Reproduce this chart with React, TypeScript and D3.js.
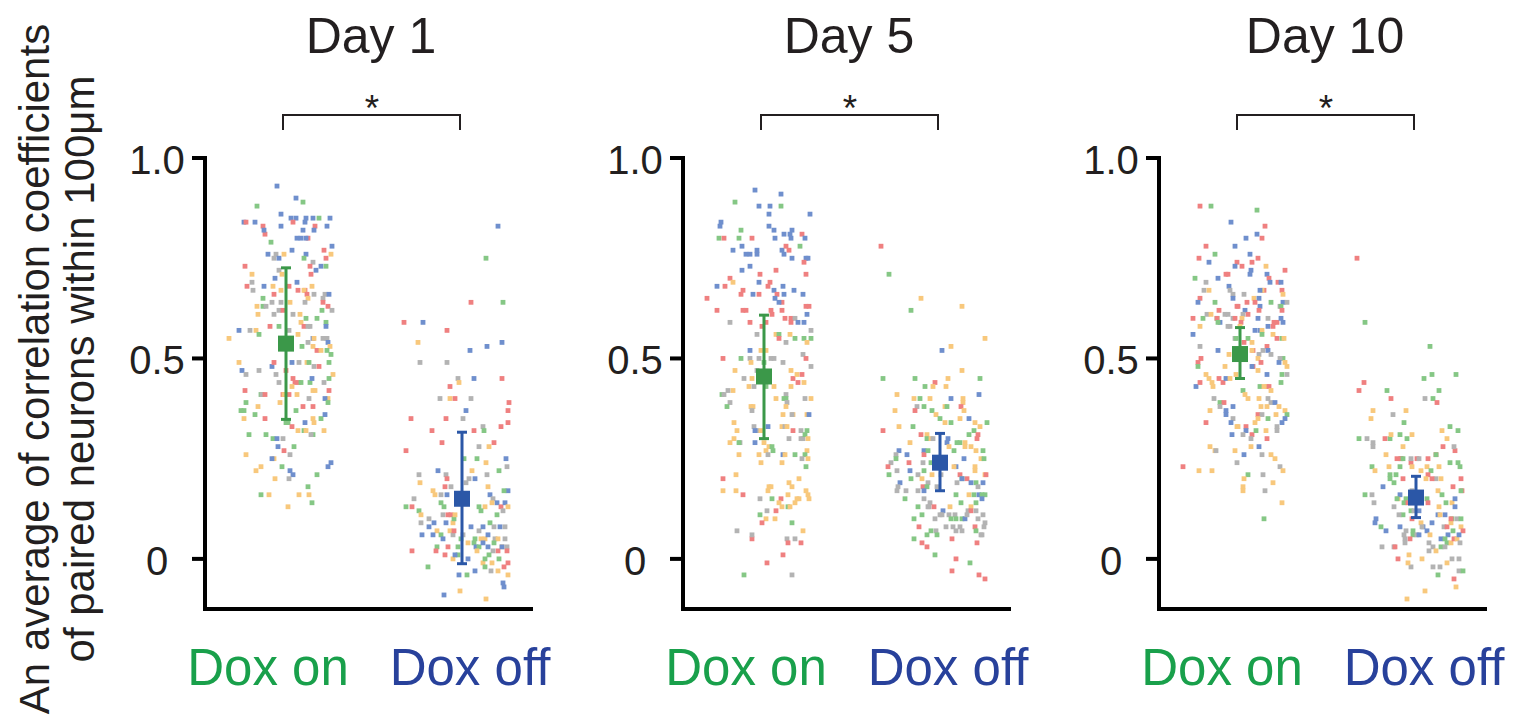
import React from "react";
import * as d3 from "d3";

const DAYS = ["Day 1", "Day 5", "Day 10"];
const CATEGORIES = ["Dox on", "Dox off"];
const Y_TICKS = [0, 0.5, 1.0];
const Y_TICK_LABELS = ["0", "0.5", "1.0"];
const Y_LABEL_LINES = ["An average of correlation coefficients", "of paired neurons within 100μm"];

// mean and error bars per day
const MEAN_ON = [0.537, 0.455, 0.511];
const LOW_ON = [0.348, 0.3, 0.45];
const HIGH_ON = [0.726, 0.608, 0.577];
const MEAN_OFF = [0.15, 0.24, 0.153];
const LOW_OFF = [-0.012, 0.17, 0.103];
const HIGH_OFF = [0.316, 0.313, 0.206];

// points: [jitter, value, colour index]  colours: 0 red, 1 orange, 2 green, 3 blue, 4 grey
const DAY1_ON = [[-9,0.93,3],[10,0.9,3],[17,0.89,2],[-29,0.88,2],[-5,0.86,3],[5,0.85,3],[10,0.85,3],[20,0.85,3],[27,0.85,3],[33,0.85,2],[44,0.85,3],[-42,0.84,3],[-40,0.84,0],[-31,0.84,3],[-23,0.83,0],[7,0.84,0],[19,0.84,3],[29,0.83,0],[41,0.83,3],[-21,0.81,0],[-22,0.82,3],[-5,0.83,3],[17,0.82,3],[28,0.82,3],[22,0.8,0],[11,0.8,3],[15,0.8,3],[20,0.8,3],[-15,0.79,2],[6,0.77,3],[46,0.78,3],[38,0.77,0],[-18,0.76,3],[-12,0.75,4],[-10,0.76,4],[-7,0.75,3],[-2,0.76,1],[20,0.76,3],[18,0.75,2],[40,0.75,0],[45,0.76,1],[-41,0.73,0],[27,0.74,4],[24,0.73,0],[30,0.72,3],[35,0.73,3],[40,0.73,2],[-7,0.72,4],[-4,0.71,1],[25,0.71,0],[-34,0.71,1],[-11,0.7,3],[11,0.69,3],[-34,0.69,4],[-39,0.68,0],[-33,0.67,4],[-22,0.68,3],[-13,0.68,1],[3,0.68,0],[12,0.67,0],[19,0.67,0],[26,0.68,1],[-5,0.67,1],[-12,0.66,0],[18,0.67,1],[21,0.66,0],[28,0.66,4],[39,0.66,4],[43,0.66,3],[-23,0.65,2],[4,0.64,1],[-5,0.64,4],[37,0.65,4],[22,0.65,1],[-14,0.64,4],[19,0.64,4],[37,0.64,0],[42,0.63,0],[46,0.62,4],[-29,0.63,1],[-23,0.63,2],[-20,0.63,4],[-7,0.62,4],[-3,0.62,0],[7,0.61,4],[14,0.61,1],[36,0.62,2],[-28,0.61,1],[-12,0.61,4],[15,0.59,1],[18,0.58,0],[20,0.6,2],[22,0.58,4],[24,0.58,4],[31,0.6,2],[40,0.59,2],[40,0.58,3],[-47,0.57,3],[-36,0.57,4],[-30,0.57,1],[-27,0.56,2],[-16,0.58,0],[-7,0.58,2],[3,0.57,4],[12,0.56,1],[-57,0.55,1],[27,0.55,3],[28,0.55,1],[37,0.55,4],[41,0.55,4],[42,0.54,3],[44,0.53,1],[16,0.53,2],[22,0.54,4],[27,0.53,1],[31,0.52,0],[35,0.52,1],[41,0.52,2],[45,0.51,2],[-47,0.49,1],[-44,0.47,3],[-40,0.46,4],[-27,0.47,4],[-14,0.48,3],[-12,0.49,0],[6,0.49,3],[13,0.49,4],[21,0.49,1],[23,0.49,2],[28,0.48,4],[33,0.48,0],[43,0.49,2],[47,0.46,1],[-10,0.46,4],[7,0.45,0],[0,0.47,0],[9,0.44,0],[13,0.44,0],[6,0.43,1],[15,0.44,2],[24,0.44,2],[26,0.45,3],[38,0.44,4],[43,0.45,2],[-7,0.44,4],[-41,0.42,0],[-25,0.41,2],[-24,0.41,4],[-21,0.41,0],[-3,0.41,0],[-2,0.41,1],[3,0.41,0],[11,0.41,1],[23,0.4,4],[27,0.42,1],[29,0.42,1],[43,0.42,0],[42,0.4,1],[39,0.4,3],[42,0.39,2],[-40,0.39,2],[-28,0.38,1],[-6,0.39,1],[17,0.38,0],[27,0.38,0],[-45,0.37,2],[-42,0.37,2],[-31,0.36,2],[-21,0.35,0],[-42,0.35,1],[0,0.34,2],[2,0.34,2],[10,0.37,2],[19,0.34,3],[27,0.35,1],[28,0.34,1],[35,0.35,2],[39,0.36,3],[38,0.32,1],[6,0.33,0],[12,0.32,1],[18,0.32,2],[20,0.32,1],[27,0.31,2],[25,0.31,4],[-37,0.31,2],[-20,0.31,2],[-13,0.3,2],[-9,0.3,3],[-3,0.3,4],[-8,0.28,3],[8,0.28,2],[-40,0.26,1],[-2,0.27,0],[4,0.26,4],[-12,0.25,1],[-14,0.25,3],[45,0.24,3],[42,0.23,3],[-25,0.23,1],[-30,0.22,1],[-4,0.23,2],[4,0.22,3],[7,0.21,3],[31,0.21,2],[-11,0.2,1],[3,0.2,4],[22,0.18,2],[-25,0.16,2],[-17,0.16,1],[13,0.16,1],[23,0.16,1],[26,0.14,2],[2,0.13,1]];

const DAY1_OFF = [[36,0.83,3],[24,0.75,2],[41,0.64,2],[9,0.64,0],[-58,0.59,0],[-39,0.59,3],[-15,0.57,0],[-44,0.54,1],[8,0.52,3],[25,0.53,3],[40,0.54,3],[-42,0.49,4],[-15,0.49,4],[-4,0.45,4],[-3,0.44,1],[-12,0.43,0],[12,0.45,3],[40,0.45,0],[-22,0.4,4],[-12,0.4,1],[-7,0.4,0],[9,0.4,4],[47,0.39,0],[46,0.37,0],[4,0.37,3],[1,0.35,4],[-51,0.35,0],[-16,0.35,0],[46,0.34,0],[39,0.33,0],[21,0.33,4],[22,0.32,2],[-30,0.32,0],[12,0.32,0],[17,0.28,4],[27,0.28,1],[32,0.29,0],[-20,0.29,0],[-56,0.27,0],[45,0.23,4],[15,0.25,2],[24,0.24,1],[37,0.22,2],[44,0.25,3],[2,0.25,2],[10,0.22,1],[-24,0.22,3],[-16,0.21,4],[-43,0.21,4],[4,0.19,4],[7,0.2,4],[13,0.2,3],[-15,0.2,0],[25,0.21,4],[-42,0.19,1],[-17,0.18,0],[-11,0.18,4],[26,0.18,1],[46,0.17,3],[-29,0.17,1],[-27,0.16,1],[-21,0.16,4],[-15,0.16,3],[-48,0.15,4],[28,0.16,3],[42,0.17,2],[31,0.15,4],[35,0.14,3],[39,0.13,0],[43,0.14,3],[30,0.14,1],[23,0.13,1],[17,0.13,2],[19,0.12,2],[35,0.11,2],[41,0.12,4],[46,0.13,1],[-56,0.13,2],[-50,0.13,0],[-43,0.12,2],[-41,0.11,1],[-33,0.1,4],[-41,0.09,4],[-33,0.08,3],[-28,0.09,3],[-25,0.07,1],[-21,0.14,2],[-18,0.13,2],[-19,0.11,4],[-16,0.09,3],[-14,0.11,0],[-11,0.11,0],[-9,0.09,1],[-8,0.1,2],[-7,0.11,1],[-12,0.07,1],[-9,0.06,4],[-8,0.07,0],[-40,0.06,3],[-29,0.06,3],[-21,0.06,2],[-19,0.05,3],[-1,0.05,2],[1,0.06,4],[9,0.08,3],[17,0.07,4],[21,0.08,3],[28,0.09,2],[32,0.08,4],[38,0.08,3],[43,0.08,4],[23,0.05,1],[26,0.06,3],[33,0.05,4],[36,0.05,1],[43,0.05,4],[40,0.03,1],[36,0.02,0],[32,0.04,2],[19,0.05,1],[13,0.05,2],[12,0.04,2],[6,0.04,1],[14,0.03,3],[17,0.03,2],[21,0.04,3],[26,0.03,3],[31,0.02,4],[45,0.03,4],[45,0.02,0],[40,0.03,3],[-25,0.03,2],[-26,0.02,0],[-14,0.03,0],[-50,0.02,0],[-4,0.03,2],[-4,0.01,2],[-17,0.01,0],[-9,0.0,1],[-7,0.01,3],[6,0.0,3],[15,0.02,1],[21,-0.01,1],[23,0.0,2],[27,0.01,2],[30,-0.01,1],[37,0.0,2],[46,-0.01,0],[29,-0.03,4],[36,-0.03,1],[46,-0.04,1],[42,-0.02,0],[23,-0.02,2],[-34,-0.02,2],[-18,-0.09,3],[-2,-0.08,1],[-3,-0.04,3],[5,-0.04,2],[13,-0.03,3],[24,-0.1,1],[41,-0.06,3],[42,-0.07,3]];

const DAY5_ON = [[-9,0.92,3],[17,0.91,3],[-29,0.89,2],[-5,0.88,3],[6,0.88,3],[17,0.88,2],[5,0.86,3],[46,0.86,3],[-44,0.83,3],[-43,0.84,3],[5,0.83,3],[-23,0.82,2],[10,0.82,3],[20,0.81,3],[26,0.81,3],[28,0.82,3],[27,0.8,3],[38,0.81,0],[41,0.8,3],[-45,0.8,2],[-40,0.8,0],[-25,0.8,2],[-12,0.8,0],[11,0.8,3],[-22,0.78,3],[-31,0.77,3],[-18,0.76,3],[-14,0.76,3],[-7,0.77,3],[-7,0.76,3],[18,0.77,3],[22,0.78,0],[25,0.77,0],[36,0.78,2],[20,0.76,3],[28,0.75,3],[42,0.75,3],[44,0.75,3],[40,0.74,0],[-22,0.72,3],[-14,0.73,3],[12,0.72,0],[-4,0.71,0],[42,0.71,0],[-34,0.7,0],[-31,0.69,1],[-5,0.69,3],[6,0.69,0],[4,0.68,0],[19,0.68,3],[-47,0.68,3],[-39,0.68,0],[30,0.67,3],[-21,0.67,0],[-23,0.66,0],[-11,0.66,3],[-5,0.66,0],[10,0.67,3],[20,0.66,3],[13,0.66,0],[39,0.66,3],[-57,0.65,0],[11,0.65,3],[18,0.64,0],[15,0.64,3],[-47,0.62,0],[-21,0.62,0],[-18,0.62,0],[18,0.62,0],[42,0.63,0],[45,0.63,0],[7,0.62,0],[8,0.61,0],[43,0.61,3],[21,0.6,0],[27,0.6,0],[31,0.6,4],[34,0.59,3],[27,0.59,0],[40,0.59,3],[-34,0.59,4],[-14,0.59,0],[2,0.59,0],[-2,0.58,0],[47,0.57,4],[-7,0.56,4],[12,0.56,1],[15,0.56,2],[15,0.55,0],[26,0.56,1],[31,0.55,2],[40,0.55,2],[47,0.55,2],[43,0.54,1],[22,0.54,4],[2,0.52,1],[-3,0.52,1],[-14,0.52,3],[-14,0.5,4],[-5,0.5,4],[7,0.5,4],[10,0.5,4],[-13,0.49,1],[-41,0.5,0],[-23,0.5,2],[0,0.49,2],[19,0.49,4],[39,0.51,4],[42,0.5,0],[-29,0.47,1],[-7,0.47,4],[27,0.47,1],[47,0.48,4],[-20,0.45,4],[-12,0.45,1],[29,0.45,0],[33,0.46,1],[38,0.46,0],[34,0.44,0],[40,0.44,1],[10,0.43,1],[27,0.43,1],[-15,0.43,1],[-10,0.43,4],[-31,0.42,1],[-36,0.42,4],[-42,0.41,2],[-40,0.41,4],[2,0.43,2],[22,0.41,4],[20,0.4,2],[22,0.4,2],[12,0.4,1],[23,0.39,4],[41,0.4,4],[47,0.4,1],[-34,0.39,4],[-37,0.38,2],[-11,0.38,1],[-13,0.38,1],[-12,0.37,4],[22,0.38,1],[19,0.36,1],[29,0.36,1],[28,0.36,4],[43,0.36,1],[45,0.36,3],[-30,0.34,1],[-10,0.33,4],[-7,0.32,4],[4,0.33,3],[18,0.33,1],[21,0.33,4],[23,0.33,1],[-27,0.32,1],[-9,0.32,3],[-3,0.32,1],[37,0.32,4],[29,0.32,0],[37,0.3,4],[39,0.3,4],[41,0.31,2],[43,0.32,2],[25,0.3,4],[-30,0.3,1],[-34,0.29,1],[-24,0.29,4],[-25,0.29,2],[-9,0.29,3],[0,0.29,1],[2,0.27,1],[5,0.28,1],[8,0.28,2],[9,0.27,2],[44,0.3,1],[43,0.27,1],[-25,0.26,1],[-5,0.26,1],[4,0.26,4],[19,0.26,3],[21,0.26,1],[31,0.26,2],[41,0.26,2],[38,0.25,4],[44,0.25,1],[18,0.24,1],[-3,0.24,1],[42,0.23,2],[-28,0.21,1],[-41,0.2,0],[35,0.2,1],[-41,0.17,1],[-28,0.17,1],[-21,0.16,0],[4,0.17,1],[5,0.18,1],[7,0.18,1],[25,0.19,1],[28,0.18,1],[42,0.17,1],[44,0.16,1],[45,0.15,1],[24,0.16,1],[33,0.15,1],[35,0.15,1],[8,0.15,2],[-4,0.15,4],[17,0.15,0],[15,0.14,1],[18,0.13,1],[31,0.14,1],[24,0.13,2],[26,0.13,1],[3,0.12,4],[12,0.12,0],[-4,0.11,2],[2,0.1,1],[11,0.1,1],[-2,0.09,0],[28,0.09,2],[39,0.07,1],[-27,0.07,4],[-12,0.05,0],[-12,0.06,4],[23,0.05,4],[24,0.04,0],[31,0.05,4],[37,0.04,0],[19,0.01,0],[3,-0.01,0],[-20,-0.04,2],[28,-0.04,4]];

const DAY5_OFF = [[-59,0.78,0],[-51,0.71,2],[-19,0.65,1],[-29,0.62,2],[22,0.63,1],[45,0.55,1],[11,0.53,1],[2,0.52,3],[22,0.47,1],[-57,0.45,2],[-25,0.45,2],[8,0.45,1],[40,0.45,2],[-5,0.44,0],[-15,0.43,2],[-7,0.43,1],[6,0.43,1],[-43,0.41,1],[-26,0.4,1],[-20,0.4,2],[-10,0.4,1],[11,0.4,3],[39,0.41,3],[23,0.4,1],[23,0.39,1],[-23,0.38,4],[-16,0.38,2],[5,0.38,1],[7,0.38,2],[21,0.38,0],[-45,0.37,1],[-25,0.37,0],[-8,0.37,2],[-4,0.36,1],[24,0.37,1],[0,0.35,2],[20,0.35,1],[5,0.34,1],[11,0.34,2],[29,0.35,3],[35,0.34,1],[47,0.34,2],[-41,0.33,1],[-27,0.33,2],[40,0.33,1],[34,0.32,2],[-57,0.32,0],[29,0.31,2],[38,0.31,0],[-19,0.31,0],[-13,0.31,1],[-13,0.3,2],[-9,0.3,1],[-7,0.3,4],[37,0.3,0],[8,0.3,3],[7,0.29,3],[17,0.29,2],[20,0.29,2],[-30,0.29,1],[9,0.28,1],[25,0.29,1],[25,0.28,1],[31,0.28,1],[-16,0.27,3],[-16,0.26,0],[-12,0.27,2],[-41,0.27,3],[-33,0.26,3],[14,0.27,2],[36,0.27,1],[43,0.27,2],[-44,0.26,4],[-44,0.25,2],[-31,0.24,0],[-17,0.24,4],[-49,0.24,4],[-9,0.24,2],[24,0.25,3],[41,0.25,1],[44,0.25,2],[16,0.23,3],[14,0.23,1],[-52,0.23,0],[-30,0.22,3],[-43,0.22,4],[-16,0.22,2],[35,0.23,1],[35,0.22,1],[-51,0.21,2],[-22,0.21,4],[-18,0.2,1],[-8,0.21,1],[1,0.21,4],[20,0.21,0],[22,0.2,2],[27,0.2,0],[45,0.21,1],[46,0.21,0],[-29,0.2,2],[-40,0.19,3],[-12,0.19,4],[17,0.19,4],[22,0.2,3],[36,0.19,2],[43,0.19,3],[-17,0.18,0],[-13,0.18,2],[-42,0.18,4],[-3,0.18,4],[31,0.19,3],[38,0.18,4],[-43,0.17,4],[-34,0.17,4],[-22,0.17,4],[-16,0.17,3],[16,0.16,2],[29,0.16,1],[34,0.16,2],[39,0.16,3],[42,0.16,2],[45,0.16,2],[-35,0.15,2],[-16,0.15,4],[-10,0.14,4],[42,0.15,3],[-22,0.13,2],[-12,0.13,4],[-11,0.13,4],[-6,0.13,0],[10,0.13,1],[21,0.14,2],[31,0.13,1],[36,0.14,2],[28,0.12,4],[31,0.12,0],[36,0.12,4],[3,0.12,3],[0,0.11,4],[2,0.11,4],[9,0.11,4],[15,0.11,4],[43,0.11,4],[-18,0.11,2],[-26,0.1,2],[-5,0.1,4],[11,0.1,2],[16,0.1,2],[22,0.1,2],[25,0.1,3],[27,0.11,4],[38,0.1,4],[45,0.09,4],[-21,0.08,0],[-9,0.07,2],[-4,0.07,4],[-3,0.06,2],[6,0.08,4],[13,0.08,4],[16,0.07,4],[20,0.08,4],[22,0.07,4],[35,0.08,0],[36,0.07,2],[44,0.08,4],[41,0.06,4],[42,0.06,4],[-13,0.06,2],[-26,0.05,2],[12,0.05,0],[-18,0.04,0],[-13,0.03,0],[37,0.04,0],[-5,0.01,2],[16,0.0,0],[30,-0.01,2],[12,-0.03,0],[39,-0.04,0],[45,-0.05,0]];

const DAY10_ON = [[-40,0.88,0],[-29,0.88,2],[17,0.87,2],[-9,0.84,3],[25,0.83,0],[6,0.8,3],[17,0.81,3],[22,0.8,0],[-34,0.78,0],[-5,0.78,3],[-25,0.76,2],[-41,0.75,0],[10,0.76,3],[-31,0.74,3],[-3,0.74,0],[-5,0.73,3],[2,0.73,0],[12,0.74,0],[18,0.75,0],[26,0.73,1],[45,0.72,0],[-14,0.71,0],[-12,0.71,0],[11,0.72,3],[10,0.71,3],[27,0.71,3],[-22,0.7,3],[29,0.7,0],[-45,0.7,2],[-34,0.69,4],[38,0.69,0],[41,0.69,3],[-11,0.68,3],[-10,0.67,4],[-36,0.67,4],[-31,0.67,1],[24,0.67,0],[22,0.67,1],[30,0.69,3],[42,0.67,0],[43,0.66,1],[-7,0.66,4],[4,0.66,4],[20,0.67,3],[-40,0.65,0],[14,0.65,1],[19,0.65,3],[31,0.64,2],[-7,0.65,3],[-42,0.64,3],[-25,0.64,2],[7,0.64,0],[15,0.64,0],[40,0.63,4],[43,0.64,3],[47,0.64,4],[-2,0.63,0],[-3,0.63,0],[20,0.63,3],[19,0.62,0],[-21,0.62,0],[41,0.63,2],[42,0.62,0],[5,0.62,3],[8,0.61,0],[3,0.61,4],[-12,0.61,4],[-15,0.61,4],[-7,0.6,4],[-5,0.6,0],[2,0.6,1],[-37,0.6,2],[-33,0.61,4],[-29,0.61,1],[-23,0.6,2],[-23,0.6,0],[-20,0.59,3],[-47,0.6,0],[-22,0.59,2],[-40,0.58,1],[-10,0.58,4],[-12,0.58,4],[1,0.59,0],[0,0.58,1],[18,0.6,3],[28,0.6,4],[28,0.58,3],[34,0.59,0],[37,0.59,0],[41,0.6,3],[43,0.59,3],[33,0.58,0],[15,0.57,3],[20,0.57,3],[22,0.57,1],[-47,0.56,3],[-40,0.53,4],[-5,0.55,4],[-4,0.55,2],[8,0.55,2],[22,0.56,2],[33,0.56,1],[37,0.55,0],[42,0.55,2],[44,0.55,1],[27,0.53,0],[4,0.54,0],[12,0.54,1],[-22,0.52,3],[13,0.52,0],[12,0.52,1],[23,0.52,4],[28,0.52,3],[19,0.51,4],[31,0.51,4],[43,0.5,2],[40,0.5,4],[-11,0.51,1],[-39,0.5,0],[-42,0.49,0],[-42,0.48,2],[-15,0.48,1],[13,0.48,0],[12,0.48,3],[18,0.5,1],[21,0.49,0],[18,0.47,1],[39,0.49,3],[45,0.49,1],[47,0.48,1],[27,0.46,3],[42,0.46,2],[47,0.46,4],[-34,0.46,1],[-31,0.45,1],[-21,0.45,0],[-17,0.44,0],[-14,0.45,3],[-10,0.45,1],[-4,0.46,1],[-44,0.43,3],[-40,0.44,0],[-28,0.44,1],[-27,0.43,1],[20,0.43,2],[24,0.43,1],[27,0.43,1],[29,0.43,0],[41,0.44,2],[31,0.42,1],[3,0.42,2],[5,0.41,1],[8,0.4,1],[-26,0.4,4],[-20,0.39,2],[-16,0.39,0],[-20,0.38,4],[19,0.4,1],[28,0.4,4],[31,0.39,4],[35,0.39,3],[27,0.38,1],[21,0.38,1],[39,0.38,1],[-30,0.37,1],[-14,0.37,3],[-14,0.36,3],[-7,0.38,3],[18,0.36,0],[22,0.36,4],[36,0.36,1],[45,0.37,1],[47,0.36,2],[-7,0.35,4],[18,0.35,1],[15,0.34,1],[28,0.35,2],[45,0.35,3],[42,0.34,3],[-34,0.34,0],[-9,0.34,3],[-3,0.33,1],[-2,0.33,1],[6,0.33,0],[6,0.32,3],[12,0.31,0],[16,0.32,2],[26,0.32,1],[37,0.33,4],[37,0.32,4],[-8,0.31,3],[3,0.31,4],[11,0.3,4],[27,0.3,0],[19,0.28,3],[-30,0.28,1],[-25,0.27,1],[-24,0.27,4],[-5,0.27,1],[11,0.28,1],[31,0.26,1],[35,0.25,1],[4,0.26,3],[-3,0.24,4],[22,0.26,4],[40,0.23,4],[-57,0.23,0],[-41,0.22,1],[-28,0.22,1],[43,0.22,1],[23,0.21,4],[8,0.21,2],[4,0.2,1],[33,0.19,1],[3,0.18,1],[3,0.17,1],[25,0.17,4],[42,0.14,1],[24,0.1,2]];

const DAY10_OFF = [[-59,0.75,0],[-51,0.59,2],[14,0.53,2],[16,0.46,2],[40,0.46,2],[-52,0.44,0],[-57,0.42,0],[8,0.45,2],[-29,0.42,2],[23,0.42,2],[-25,0.4,0],[9,0.4,4],[17,0.4,2],[21,0.39,0],[-23,0.36,4],[-43,0.37,1],[-45,0.35,1],[-10,0.37,1],[-12,0.34,2],[34,0.33,2],[42,0.32,2],[26,0.32,1],[-49,0.3,4],[-57,0.3,2],[-26,0.3,2],[-25,0.31,1],[-16,0.31,2],[-9,0.3,2],[-4,0.31,1],[31,0.3,1],[-43,0.28,4],[-43,0.29,4],[-31,0.3,0],[-13,0.28,1],[27,0.28,0],[20,0.26,0],[20,0.26,2],[39,0.27,0],[38,0.28,4],[-30,0.26,1],[-15,0.25,2],[-19,0.25,0],[-15,0.25,0],[-13,0.25,2],[-5,0.24,0],[-5,0.25,4],[1,0.25,0],[3,0.25,4],[12,0.25,0],[34,0.24,2],[42,0.24,2],[-44,0.23,2],[-27,0.23,1],[-16,0.23,2],[-4,0.23,1],[11,0.23,1],[15,0.22,2],[23,0.23,1],[44,0.23,2],[-41,0.22,1],[-20,0.21,2],[5,0.22,1],[12,0.21,0],[-26,0.21,2],[-22,0.19,2],[-26,0.2,2],[-13,0.2,0],[10,0.2,1],[20,0.2,4],[16,0.2,0],[25,0.2,1],[45,0.2,0],[-33,0.18,3],[-4,0.17,4],[22,0.17,1],[37,0.18,0],[46,0.17,0],[45,0.17,2],[-51,0.16,2],[-44,0.16,4],[-18,0.15,1],[-16,0.16,3],[-19,0.15,2],[-12,0.14,2],[-10,0.15,2],[-8,0.14,0],[11,0.15,2],[12,0.14,0],[26,0.16,2],[30,0.14,2],[36,0.14,1],[39,0.15,3],[39,0.13,3],[3,0.12,3],[-5,0.12,2],[-42,0.14,4],[-22,0.13,4],[-13,0.11,2],[-17,0.11,4],[-2,0.12,4],[23,0.13,1],[22,0.11,3],[29,0.11,3],[24,0.11,1],[36,0.1,2],[41,0.1,4],[45,0.1,2],[-40,0.1,3],[-41,0.09,3],[-35,0.08,2],[-30,0.07,3],[-16,0.08,3],[-10,0.07,4],[-4,0.1,0],[7,0.08,3],[5,0.09,1],[6,0.08,4],[16,0.09,3],[28,0.08,4],[31,0.08,0],[35,0.09,1],[35,0.1,0],[37,0.07,2],[45,0.08,1],[47,0.07,0],[-12,0.06,4],[-3,0.07,2],[-3,0.06,2],[1,0.06,4],[3,0.06,3],[11,0.07,3],[14,0.06,1],[25,0.05,3],[32,0.06,3],[29,0.05,2],[31,0.04,2],[35,0.04,1],[38,0.05,0],[41,0.05,1],[43,0.06,3],[-6,0.05,0],[-11,0.05,4],[-11,0.04,4],[13,0.04,4],[44,0.04,4],[-34,0.03,4],[-22,0.03,4],[-21,0.03,0],[17,0.03,4],[13,0.02,4],[20,0.02,1],[25,0.03,2],[29,0.03,4],[-7,0.01,1],[-18,0.0,0],[6,0.0,1],[43,0.0,4],[-5,-0.02,4],[-8,-0.01,1],[17,-0.02,4],[24,-0.02,4],[31,-0.01,1],[36,0.0,4],[43,-0.03,4],[47,-0.03,2],[22,-0.04,2],[38,-0.05,0],[40,-0.07,1],[9,-0.08,1],[-9,-0.1,1]];

const POINTS_ON = [DAY1_ON, DAY5_ON, DAY10_ON];
const POINTS_OFF = [DAY1_OFF, DAY5_OFF, DAY10_OFF];

const POINT_COLORS = ["#ef8080", "#f8c87c", "#85c785", "#6f8fcd", "#b3b3b3"];
const MEAN_COLORS = ["#3b9849", "#2b57a7"];
const LABEL_COLORS = ["#19a04b", "#28419b"];

const FONT = "'Liberation Sans', Arial, Helvetica, sans-serif";
const TEXT = "#231f20";

const PANEL_X = [205, 683, 1159];
const AXIS_WIDTH = 328;

export default function App() {
  const y = d3.scaleLinear().domain([-0.125, 1]).range([609, 158]);
  const x = d3.scalePoint<string>().domain(CATEGORIES).range([81, 257]);
  const jitter = d3.scaleLinear().domain([-60, 60]).range([-60, 60]);
  const S = 4.8;

  return (
    <svg width={1517} height={725} style={{ position: "absolute", left: 0, top: 0, background: "#fff" }}>
      <rect x={0} y={0} width={1517} height={725} fill="#fff" />
      {Y_LABEL_LINES.map((t, i) => (
        <text key={t} transform={`translate(${49 + i * 45},369) rotate(-90)`} textAnchor="middle"
          fontFamily={FONT} fontSize={42} fill={TEXT}>{t}</text>
      ))}
      {DAYS.map((day, d) => {
        const ox = PANEL_X[d];
        const groups = [
          { pts: POINTS_ON[d], mean: MEAN_ON[d], lo: LOW_ON[d], hi: HIGH_ON[d] },
          { pts: POINTS_OFF[d], mean: MEAN_OFF[d], lo: LOW_OFF[d], hi: HIGH_OFF[d] },
        ];
        const xOn = ox + (x(CATEGORIES[0]) as number);
        const xOff = ox + (x(CATEGORIES[1]) as number);
        return (
          <g key={day}>
            <text x={ox + 166} y={53} textAnchor="middle" fontFamily={FONT} fontSize={50} fill={TEXT}>{day}</text>
            <path d={`M${xOn - 3},130V115H${xOff - 2}V130`} fill="none" stroke={TEXT} strokeWidth={2} />
            <text x={(xOn + xOff) / 2 - 2} y={121} textAnchor="middle" fontFamily={FONT} fontSize={37} fill={TEXT}>*</text>
            {Y_TICKS.map((t, i) => (
              <g key={t}>
                <line x1={ox - 13} x2={ox} y1={y(t)} y2={y(t)} stroke="#000" strokeWidth={4} />
                <text x={ox - 48} y={y(t) + 16} textAnchor="middle" fontFamily={FONT} fontSize={40} fill={TEXT}>{Y_TICK_LABELS[i]}</text>
              </g>
            ))}
            <line x1={ox} x2={ox} y1={y(1) - 2} y2={y(-0.125)} stroke="#000" strokeWidth={4} />
            <line x1={ox - 2} x2={ox + AXIS_WIDTH} y1={y(-0.125)} y2={y(-0.125)} stroke="#000" strokeWidth={4} />
            {groups.map((g, gi) => {
              const cx = ox + (x(CATEGORIES[gi]) as number);
              return (
                <g key={gi}>
                  {g.pts.map((p, k) => (
                    <rect key={k} x={cx + jitter(p[0]) - S / 2} y={y(p[1]) - S / 2} width={S} height={S} fill={POINT_COLORS[p[2]]} />
                  ))}
                </g>
              );
            })}
            {groups.map((g, gi) => {
              const cx = ox + (x(CATEGORIES[gi]) as number);
              const c = MEAN_COLORS[gi];
              return (
                <g key={"m" + gi}>
                  <line x1={cx} x2={cx} y1={y(g.hi)} y2={y(g.lo)} stroke={c} strokeWidth={3} />
                  <line x1={cx - 5} x2={cx + 5} y1={y(g.hi)} y2={y(g.hi)} stroke={c} strokeWidth={3} />
                  <line x1={cx - 5} x2={cx + 5} y1={y(g.lo)} y2={y(g.lo)} stroke={c} strokeWidth={3} />
                  <rect x={cx - 8} y={y(g.mean) - 8} width={16} height={16} fill={c} />
                </g>
              );
            })}
            {CATEGORIES.map((cat, ci) => (
              <text key={cat} x={ox + (ci === 0 ? 63 : 265)} y={685} textAnchor="middle" fontFamily={FONT} fontSize={51} fill={LABEL_COLORS[ci]}>{cat}</text>
            ))}
          </g>
        );
      })}
    </svg>
  );
}
